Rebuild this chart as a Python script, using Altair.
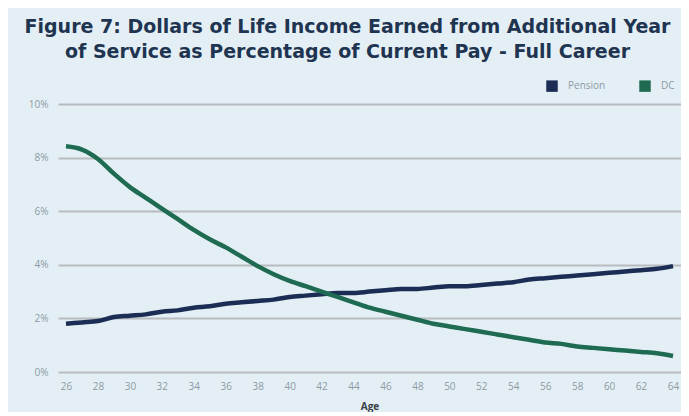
import altair as alt
import pandas as pd

ages = list(range(26, 65))
pension = [1.80, 1.85, 1.90, 2.05, 2.10, 2.15, 2.25, 2.30, 2.40, 2.45,
           2.55, 2.60, 2.65, 2.70, 2.80, 2.85, 2.90, 2.95, 2.95, 3.00,
           3.05, 3.10, 3.10, 3.15, 3.20, 3.20, 3.25, 3.30, 3.35, 3.45,
           3.50, 3.55, 3.60, 3.65, 3.70, 3.75, 3.80, 3.85, 3.95]
dc = [8.42, 8.30, 7.95, 7.40, 6.90, 6.50, 6.10, 5.70, 5.30, 4.95,
      4.65, 4.30, 3.95, 3.65, 3.40, 3.20, 3.00, 2.80, 2.60, 2.40,
      2.25, 2.10, 1.95, 1.80, 1.70, 1.60, 1.50, 1.40, 1.30, 1.20,
      1.10, 1.05, 0.95, 0.90, 0.85, 0.80, 0.75, 0.70, 0.60]
series_names = ["Pension", "DC"]
series_colors = ["#1b2d55", "#1e6b52"]
y_ticks = [0, 2, 4, 6, 8, 10]
x_ticks = list(range(26, 65, 2))

df = pd.DataFrame({
    "Age": ages * 2,
    "Value": pension + dc,
    "Series": ["Pension"] * len(ages) + ["DC"] * len(ages),
})

chart = alt.Chart(df).mark_line(strokeWidth=4.5, interpolate="monotone").encode(
    x=alt.X("Age:Q",
            scale=alt.Scale(domain=[25.5, 64.5], nice=False, zero=False),
            axis=alt.Axis(values=x_ticks, grid=False, domain=False, ticks=False,
                          labelColor="#8d9aa3", labelFontSize=10, labelPadding=9,
                          title="Age", titleFontSize=10, titleColor="#3a3f44",
                          titleFontWeight="bold", titlePadding=10,
                          titleFont="Open Sans", labelFont="Open Sans")),
    y=alt.Y("Value:Q",
            scale=alt.Scale(domain=[0, 10], nice=False),
            axis=alt.Axis(values=y_ticks, labelExpr="datum.value + '%'",
                          grid=True, gridColor="#b8bcbf", gridWidth=2,
                          domain=False, ticks=False, labelColor="#8d9aa3",
                          labelFontSize=10, labelPadding=10, title=None,
                          labelFont="Open Sans")),
    color=alt.Color("Series:N",
                    scale=alt.Scale(domain=series_names, range=series_colors),
                    legend=alt.Legend(orient="none", legendX=488, legendY=-24,
                                      direction="horizontal", title=None,
                                      symbolType="square", symbolSize=30,
                                      symbolStrokeWidth=6, symbolOpacity=1,
                                      labelColor="#8d9aa3", labelFontSize=10,
                                      labelOffset=10,
                                      labelFont="Open Sans", columnPadding=24)),
).properties(
    width=623,
    height=268,
    background="#e3eff5",
    padding={"left": 50, "top": 96, "right": 0, "bottom": 40},
    autosize=alt.AutoSizeParams(type="none"),
    title=alt.TitleParams(
        text=["Figure 7: Dollars of Life Income Earned from Additional Year",
              "of Service as Percentage of Current Pay - Full Career"],
        font="DejaVu Sans", fontSize=19, fontWeight="bold", color="#1f3450",
        anchor="middle", dx=-22, offset=18, lineHeight=25,
    ),
).configure_view(stroke=None)

chart.save("out.html", embed_options={"renderer": "svg", "actions": False})
